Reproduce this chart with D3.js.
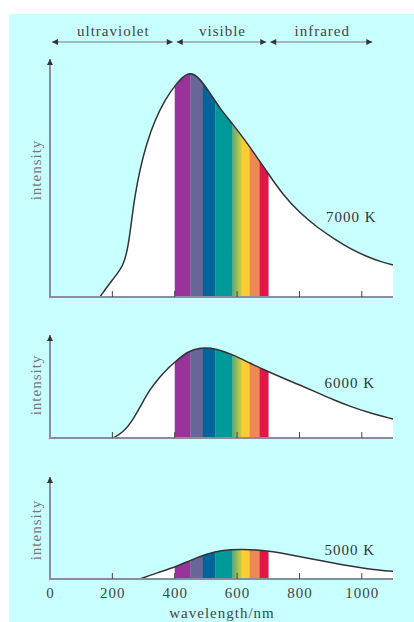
<!DOCTYPE html>
<html>
<head>
<meta charset="utf-8">
<script src="https://cdn.jsdelivr.net/npm/d3@7"></script>
<style>
	body { margin: 0; background: #fff; }
	svg { display: block; }
	text { font-family: 'Liberation Serif', 'Times New Roman', serif; letter-spacing: 1px; }
</style>
</head>
<body>
<svg width="414" height="622"></svg>
<script>
// curves: [wavelength nm, relative intensity]
const curve7000 = [[160, 0], [203, 8.3], [235, 13.5], [251, 22.5], [262, 34.4], [272, 44.8], [288, 56.7], [310, 68.6], [337, 79], [369, 88], [406, 95.4], [443, 100.5], [475, 98.5], [513, 91], [545, 84], [587, 77], [641, 67], [695, 56], [747, 45.5], [801, 37.5], [857, 31], [913, 25.8], [962, 21.6], [1016, 18], [1067, 15.4], [1100, 14.3]];
const curve6000 = [[202, 0], [235, 2.5], [266, 8], [295, 15.5], [321, 21.8], [350, 27], [375, 30.8], [401, 34], [439, 38.6], [481, 40.6], [535, 40], [587, 37.3], [641, 33.5], [695, 30], [744, 27], [801, 23.7], [856, 20.4], [907, 17.2], [962, 14.2], [1016, 11.6], [1100, 8.5]];
const curve5000 = [[288, 0], [343, 2.7], [407, 5.6], [449, 8.3], [503, 11.3], [555, 12.9], [609, 13.3], [663, 13.1], [715, 12.2], [769, 10.9], [824, 9.4], [875, 8], [929, 6.6], [984, 5.3], [1035, 4.2], [1100, 3.4]];
const curves = [curve7000, curve6000, curve5000];
const temps = ['7000 K', '6000 K', '5000 K'];

// colour bands of the visible spectrum (nm)
const bandEdges = [400, 450, 490, 530, 585, 615, 640, 672, 700];
const bandColours = ['#993399', '#666699', '#006699', '#009999', 'url(#greenYellow)', '#ffcc33', '#ee8855', '#e0184a'];

const regions = [['ultraviolet', 0, 400], ['visible', 400, 700], ['infrared', 700, 1040]];
const xTicks = [0, 200, 400, 600, 800, 1000];

const svg = d3.select('svg');

svg.append('rect')
	.attr('x', 9).attr('y', 14)
	.attr('width', 405).attr('height', 608)
	.attr('fill', '#c8ffff');

const defs = svg.append('defs');
const grad = defs.append('linearGradient').attr('id', 'greenYellow');
grad.append('stop').attr('offset', '0%').attr('stop-color', '#5fa870');
grad.append('stop').attr('offset', '100%').attr('stop-color', '#d8d040');

defs.append('marker')
	.attr('id', 'head')
	.attr('viewBox', '0 0 10 10')
	.attr('refX', 10).attr('refY', 5)
	.attr('markerWidth', 8).attr('markerHeight', 6)
	.attr('markerUnits', 'userSpaceOnUse')
	.attr('orient', 'auto-start-reverse')
	.append('path')
	.attr('d', 'M0,0L10,5L0,10Z')
	.attr('fill', '#333');

const x = d3.scaleLinear().domain([0, 1100]).range([50, 393]);

// panel layout: baseline, top of the axis, intensity at the top
const panels = [
	{ base: 297, top: 57, yMax: 107, labelY: 170, tempAt: [885, 222] },
	{ base: 438, top: 333, yMax: 47, labelY: 385, tempAt: [880, 388] },
	{ base: 579, top: 475, yMax: 46.5, labelY: 530, tempAt: [880, 555] }
];

panels.forEach((p, i) => {
	const y = d3.scaleLinear().domain([0, p.yMax]).range([p.base, p.top]);
	const data = curves[i];
	const g = svg.append('g');

	const area = d3.area()
		.x(d => x(d[0]))
		.y0(y(0))
		.y1(d => y(d[1]))
		.curve(d3.curveBasis);
	const line = d3.line()
		.x(d => x(d[0]))
		.y(d => y(d[1]))
		.curve(d3.curveBasis);

	defs.append('clipPath')
		.attr('id', `clip-${i}`)
		.append('path')
		.attr('d', area(data));

	g.append('path')
		.attr('d', area(data))
		.attr('fill', '#fff');

	g.append('g')
		.attr('clip-path', `url(#clip-${i})`)
		.selectAll('rect')
		.data(bandColours)
		.join('rect')
		.attr('x', (d, j) => x(bandEdges[j]))
		.attr('width', (d, j) => x(bandEdges[j + 1]) - x(bandEdges[j]) + 0.3)
		.attr('y', p.top)
		.attr('height', p.base - p.top)
		.attr('fill', d => d);

	g.append('path')
		.attr('d', line(data))
		.attr('fill', 'none')
		.attr('stroke', '#333')
		.attr('stroke-width', 1.5);

	// axes
	g.append('line')
		.attr('x1', x(0)).attr('x2', x(1100))
		.attr('y1', p.base).attr('y2', p.base)
		.attr('stroke', '#8c8c9c').attr('stroke-width', 2);
	g.append('line')
		.attr('x1', x(0)).attr('x2', x(0))
		.attr('y1', p.base + 1).attr('y2', p.top + 2)
		.attr('stroke', '#8c8c9c').attr('stroke-width', 2)
		.attr('marker-end', 'url(#head)');

	g.selectAll('.tick')
		.data(xTicks.slice(1))
		.join('line')
		.attr('x1', d => x(d)).attr('x2', d => x(d))
		.attr('y1', p.base).attr('y2', p.base - 6)
		.attr('stroke', '#444').attr('stroke-width', 1);

	g.append('text')
		.attr('transform', `translate(41,${p.labelY}) rotate(-90)`)
		.attr('text-anchor', 'middle')
		.attr('font-size', 15)
		.attr('fill', '#777')
		.text('intensity');

	g.append('text')
		.attr('x', x(p.tempAt[0]))
		.attr('y', p.tempAt[1])
		.attr('font-size', 15)
		.attr('fill', '#333')
		.text(temps[i]);
});

// bottom tick labels
svg.append('g')
	.selectAll('text')
	.data(xTicks)
	.join('text')
	.attr('x', d => x(d) + 0.5)
	.attr('y', 598)
	.attr('text-anchor', 'middle')
	.attr('font-size', 15)
	.attr('fill', '#444')
	.text(d => d);

svg.append('text')
	.attr('x', 222).attr('y', 618)
	.attr('text-anchor', 'middle')
	.attr('font-size', 15)
	.attr('fill', '#444')
	.text('wavelength/nm');

// header: spectral regions
const header = svg.append('g');
header.selectAll('line')
	.data(regions)
	.join('line')
	.attr('x1', d => x(d[1]) + 2).attr('x2', d => x(d[2]) - 2)
	.attr('y1', 42).attr('y2', 42)
	.attr('stroke', '#777').attr('stroke-width', 1.2)
	.attr('marker-start', 'url(#head)')
	.attr('marker-end', 'url(#head)');
header.selectAll('text')
	.data(regions)
	.join('text')
	.attr('x', d => (x(d[1]) + x(d[2])) / 2 + 1)
	.attr('y', 36)
	.attr('text-anchor', 'middle')
	.attr('font-size', 15)
	.attr('fill', '#444')
	.text(d => d[0]);
</script>
</body>
</html>
